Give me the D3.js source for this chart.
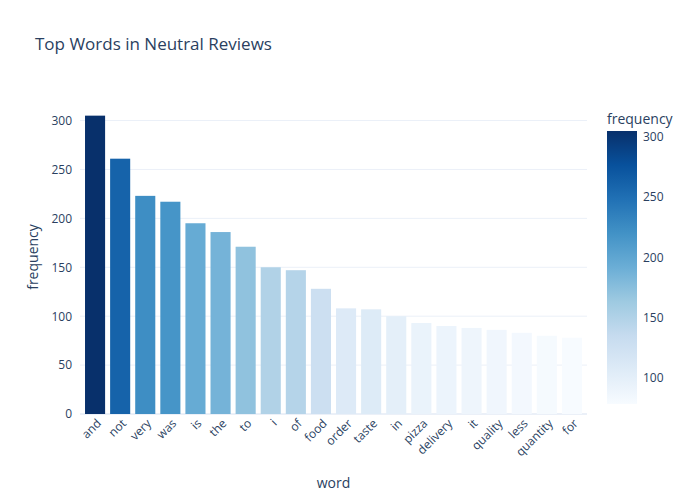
<!DOCTYPE html>
<html>
<head>
<meta charset="utf-8">
<script src="https://cdn.jsdelivr.net/npm/d3@7"></script>
<style>
  body { margin: 0; background: #fff; }
  text { font-family: "Open Sans", Verdana, sans-serif; fill: #2a3f5f; }
</style>
</head>
<body>
<script>
var words = ["and","not","very","was","is","the","to","i","of","food","order","taste","in","pizza","delivery","it","quality","less","quantity","for"];
var freqs = [305,261,223,217,195,186,171,150,147,128,108,107,100,93,90,88,86,83,80,78];
var cbTicks = [100,150,200,250,300];
var blues = ["rgb(247,251,255)","rgb(222,235,247)","rgb(198,219,239)","rgb(158,202,225)","rgb(107,174,214)","rgb(66,146,198)","rgb(33,113,181)","rgb(8,81,156)","rgb(8,48,107)"];

var W = 700, H = 500, m = {l: 80, r: 113, t: 100, b: 86};
var svg = d3.select("body").append("svg").attr("width", W).attr("height", H);

var x = d3.scaleBand().domain(words).range([m.l, W - m.r]).padding(0.2);
var y = d3.scaleLinear().domain([0, 321]).range([H - m.b, m.t]);
var cmin = d3.min(freqs), cmax = d3.max(freqs);
var color = d3.scaleLinear()
  .domain(blues.map(function(d, i) { return cmin + (cmax - cmin) * i / 8; }))
  .range(blues);

// gridlines
svg.append("g").selectAll("line").data(y.ticks(6).filter(function(d){return d>0;}))
  .join("line")
  .attr("x1", m.l).attr("x2", W - m.r)
  .attr("y1", function(d){return y(d);}).attr("y2", function(d){return y(d);})
  .attr("stroke", "#ebf0f8");
svg.append("line").attr("x1", m.l).attr("x2", W - m.r)
  .attr("y1", y(0)).attr("y2", y(0)).attr("stroke", "#ebf0f8").attr("stroke-width", 2);

svg.append("g").selectAll("rect").data(words).join("rect")
  .attr("x", function(d){return x(d);})
  .attr("width", x.bandwidth())
  .attr("y", function(d, i){return y(freqs[i]);})
  .attr("height", function(d, i){return y(0) - y(freqs[i]);})
  .attr("fill", function(d, i){return color(freqs[i]);});

var ya = svg.append("g").attr("transform", "translate(" + m.l + ",0)")
  .call(d3.axisLeft(y).ticks(6).tickSize(0).tickPadding(8));
ya.select(".domain").remove();
ya.selectAll("text").style("font-size", "12px").attr("fill", "#2a3f5f");

var xa = svg.append("g").attr("transform", "translate(0," + (H - m.b) + ")")
  .call(d3.axisBottom(x).tickSize(0).tickPadding(6));
xa.select(".domain").remove();
xa.selectAll("text").style("font-size", "12px").attr("fill", "#2a3f5f")
  .attr("text-anchor", "end").attr("dx", "-0.2em").attr("dy", "0.5em")
  .attr("transform", "rotate(-45)");

svg.append("text").attr("x", 35).attr("y", 50).style("font-size", "17px").text("Top Words in Neutral Reviews");
svg.append("text").attr("x", (m.l + W - m.r) / 2).attr("y", 488).attr("text-anchor", "middle")
  .style("font-size", "14px").text("word");
svg.append("text").attr("transform", "translate(38," + ((m.t + H - m.b) / 2) + ") rotate(-90)")
  .attr("text-anchor", "middle").style("font-size", "14px").text("frequency");

// colorbar
var cbX = 607, cbW = 30, cbTop = 131, cbBot = 404;
var cy = d3.scaleLinear().domain([cmin, cmax]).range([cbBot, cbTop]);
var grad = svg.append("defs").append("linearGradient").attr("id", "cb")
  .attr("x1", 0).attr("x2", 0).attr("y1", 1).attr("y2", 0);
blues.forEach(function(c, i) {
  grad.append("stop").attr("offset", (i / 8 * 100) + "%").attr("stop-color", c);
});
svg.append("rect").attr("x", cbX).attr("y", cbTop).attr("width", cbW)
  .attr("height", cbBot - cbTop).attr("fill", "url(#cb)");
var ca = svg.append("g").attr("transform", "translate(" + (cbX + cbW) + ",0)")
  .call(d3.axisRight(cy).tickValues(cbTicks).tickSize(0).tickPadding(6));
ca.select(".domain").remove();
ca.selectAll("text").style("font-size", "12px").attr("fill", "#2a3f5f");
svg.append("text").attr("x", cbX).attr("y", 124).style("font-size", "14px").text("frequency");
</script>
</body>
</html>
